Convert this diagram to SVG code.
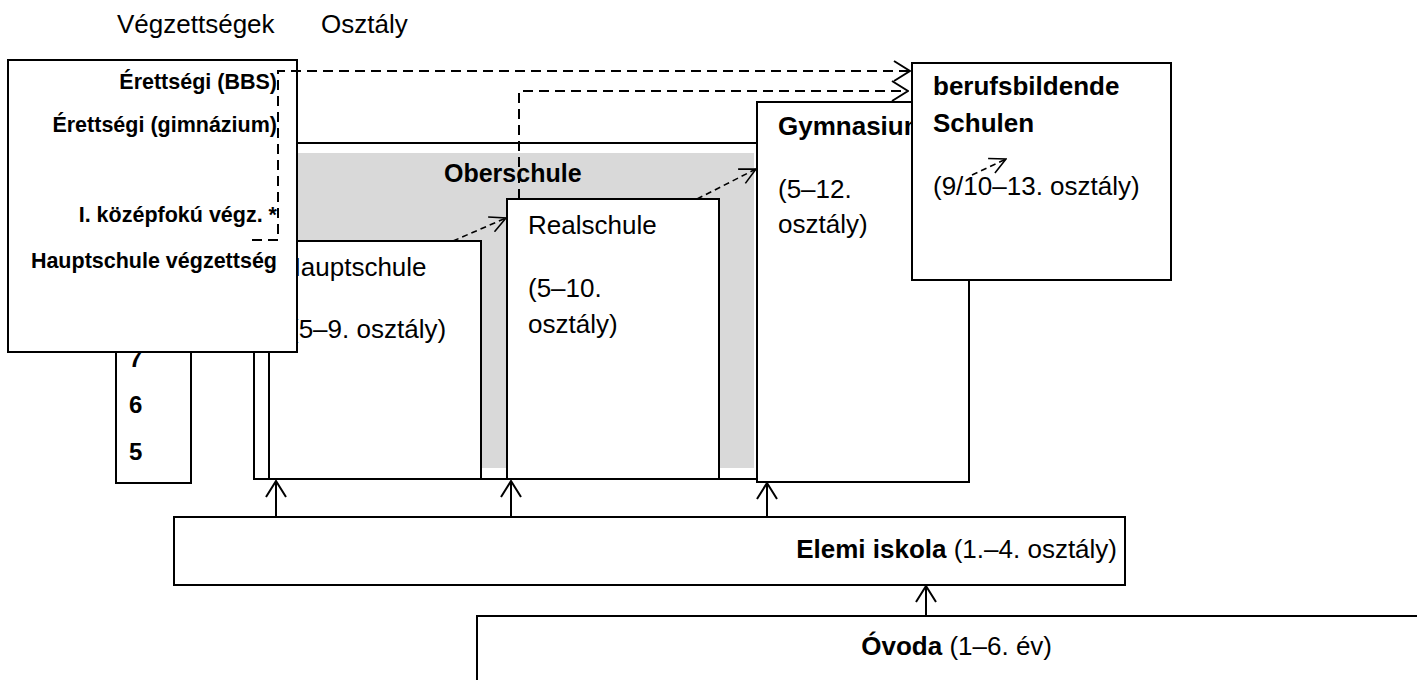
<svg xmlns="http://www.w3.org/2000/svg" width="1417" height="680" viewBox="0 0 1417 680">
<defs>
<style>
.box{fill:#fff;stroke:#000;stroke-width:2}
.t{font-family:"Liberation Sans",Arial,sans-serif;font-size:26px;fill:#000}
.tb{font-family:"Liberation Sans",Arial,sans-serif;font-size:26px;font-weight:bold;fill:#000}
.ob{font-family:"Liberation Sans",Arial,sans-serif;font-size:25px;font-weight:bold;fill:#000}
.lbl{font-family:"Liberation Sans",Arial,sans-serif;font-size:21.5px;font-weight:bold;text-anchor:end;fill:#000}
.num{font-family:"Liberation Sans",Arial,sans-serif;font-size:24px;font-weight:bold;fill:#000}
.solid{fill:none;stroke:#000;stroke-width:2}
.dash{fill:none;stroke:#000;stroke-width:2;stroke-dasharray:10 6}
.dsm{fill:none;stroke:#000;stroke-width:1.6;stroke-dasharray:6 4}
</style>
<marker id="ah" markerUnits="userSpaceOnUse" viewBox="0 0 18 22" refX="17" refY="11" markerWidth="18" markerHeight="22" orient="auto"><path d="M1,1 L17,11 L1,21" fill="none" stroke="#000" stroke-width="2"/></marker>
<marker id="ahs" markerUnits="userSpaceOnUse" viewBox="0 0 18 18" refX="17" refY="9" markerWidth="18" markerHeight="18" orient="auto"><path d="M1,1 L17,9 L1,17" fill="none" stroke="#000" stroke-width="1.6"/></marker>
</defs>
<rect width="1417" height="680" fill="#fff"/>

<g id="headers">
<text class="t" x="117" y="33" font-size="25">Végzettségek</text>
<text class="t" x="321" y="33" font-size="25">Osztály</text>
</g>

<g id="oberschule">
<rect class="box" x="254" y="143" width="506" height="336"/>
<rect x="270" y="153" width="484" height="315" fill="#d9d9d9"/>
<text class="ob" x="444" y="182">Oberschule</text>
</g>

<g id="hauptschule">
<rect class="box" x="269" y="241" width="212" height="238"/>
<text class="t" x="282" y="276">Hauptschule</text>
<text class="t" x="290" y="338">(5–9. osztály)</text>
</g>

<g id="realschule">
<rect class="box" x="507" y="199" width="212" height="280"/>
<text class="t" x="528" y="234">Realschule</text>
<text class="t" x="528" y="297">(5–10.</text>
<text class="t" x="528" y="333">osztály)</text>
</g>

<g id="gymnasium">
<rect class="box" x="757" y="102" width="212" height="380"/>
<text class="tb" x="778" y="135">Gymnasium</text>
<text class="t" x="778" y="198">(5–12.</text>
<text class="t" x="778" y="233">osztály)</text>
</g>

<g id="bbs">
<rect class="box" x="912" y="63" width="259" height="217"/>
<text class="tb" x="933" y="95">berufsbildende</text>
<text class="tb" x="933" y="132">Schulen</text>
<text class="t" x="933" y="195">(9/10–13. osztály)</text>
</g>

<g id="osztaly-column">
<rect class="box" x="116" y="80" width="75" height="403"/>
<text class="num" x="129" y="367">7</text>
<text class="num" x="129" y="413">6</text>
<text class="num" x="129" y="460">5</text>
</g>

<g id="vegzettsegek">
<rect class="box" x="8" y="60" width="289" height="292"/>
<text class="lbl" x="277" y="89">Érettségi (BBS)</text>
<text class="lbl" x="277" y="132">Érettségi (gimnázium)</text>
<text class="lbl" x="277" y="222">I. középfokú végz. *</text>
<text class="lbl" x="277" y="268">Hauptschule végzettség</text>
</g>

<g id="elemi">
<rect class="box" x="174" y="517" width="951" height="68"/>
<text class="t" x="1117" y="558" text-anchor="end"><tspan font-weight="bold">Elemi iskola</tspan> (1.–4. osztály)</text>
</g>

<g id="ovoda">
<rect class="box" x="477" y="616" width="960" height="80"/>
<text class="t" x="1052" y="655" text-anchor="end"><tspan font-weight="bold">Óvoda</tspan> (1–6. év)</text>
</g>

<g id="connectors">
<path class="dash" d="M252,240 H278 V71 H910" marker-end="url(#ah)"/>
<path class="dash" d="M519,199 V91 H908" marker-end="url(#ah)"/>
<path class="dsm" d="M453,241 L506,218" marker-end="url(#ahs)"/>
<path class="dsm" d="M697,199 L756,169" marker-end="url(#ahs)"/>
<path class="dsm" d="M972,175 L1006,159" marker-end="url(#ahs)"/>
<path class="solid" d="M276,517 V481" marker-end="url(#ah)"/>
<path class="solid" d="M511,517 V481" marker-end="url(#ah)"/>
<path class="solid" d="M767,517 V483" marker-end="url(#ah)"/>
<path class="solid" d="M926,616 V586" marker-end="url(#ah)"/>
</g>
</svg>
